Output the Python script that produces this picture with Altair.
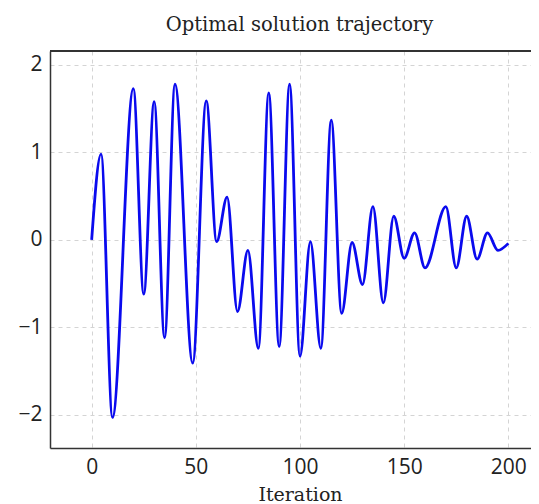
import altair as alt
import pandas as pd

# Turning points of the trajectory (iteration, value)
iteration = [0, 4.5, 10, 20, 25, 30, 35, 40, 48.5, 55, 60, 65, 70, 75, 80, 85, 90, 95,
             100, 105, 110, 115, 120, 125, 130, 135, 140, 145, 150, 155, 160, 170,
             175, 180, 185, 190, 195, 200]
value = [0.0, 0.98, -2.03, 1.73, -0.62, 1.58, -1.12, 1.78, -1.41, 1.59, -0.02, 0.49,
         -0.82, -0.12, -1.24, 1.68, -1.22, 1.78, -1.33, -0.02, -1.24, 1.37, -0.84,
         -0.03, -0.51, 0.38, -0.72, 0.27, -0.21, 0.08, -0.32, 0.38, -0.32, 0.27,
         -0.22, 0.08, -0.12, -0.04]

x_ticks = [0, 50, 100, 150, 200]
y_ticks = [-2, -1, 0, 1, 2]

df = pd.DataFrame({"Iteration": iteration, "value": value})

PLOT_W = 481
RANGE_W = 500
PLOT_H = 397

line = alt.Chart(df).mark_line(
    interpolate="monotone", color="#0a0aee", strokeWidth=2.8
).encode(
    x=alt.X("Iteration:Q",
            scale=alt.Scale(domain=[-20, 220], range=[0, RANGE_W], nice=False, zero=False),
            axis=alt.Axis(values=x_ticks, title="Iteration", labelFlush=False)),
    y=alt.Y("value:Q",
            scale=alt.Scale(domain=[-2.38, 2.16], nice=False, zero=False),
            axis=alt.Axis(values=y_ticks, title=None)),
)

top_rule = alt.Chart(df).mark_rule(color="#333333", strokeWidth=1.5).encode(
    x=alt.value(0), x2=alt.value(RANGE_W), y=alt.value(0)
)

chart = alt.layer(line, top_rule).properties(
    width=PLOT_W,
    height=PLOT_H,
    title=alt.TitleParams(
        "Optimal solution trajectory",
        font="DejaVu Serif", fontSize=19.5, fontWeight="normal", color="#222222",
        anchor="middle", dx=9, offset=15,
    ),
    autosize=alt.AutoSizeParams(type="none"),
    padding={"left": 42, "top": 43, "right": 0, "bottom": 58},
).configure_view(
    strokeWidth=0
).configure_axis(
    domainColor="#333333", domainWidth=1.5,
    grid=True, gridColor="#d4d4d4", gridDash=[4, 4], gridWidth=1,
    ticks=False,
    labelFont="Open Sans", labelFontSize=21, labelColor="#222222", labelPadding=8,
    titleFont="DejaVu Serif", titleFontSize=19, titleFontWeight="normal",
    titleColor="#222222", titlePadding=8,
)

chart.save("out.html", embed_options={"renderer": "svg", "actions": False})
